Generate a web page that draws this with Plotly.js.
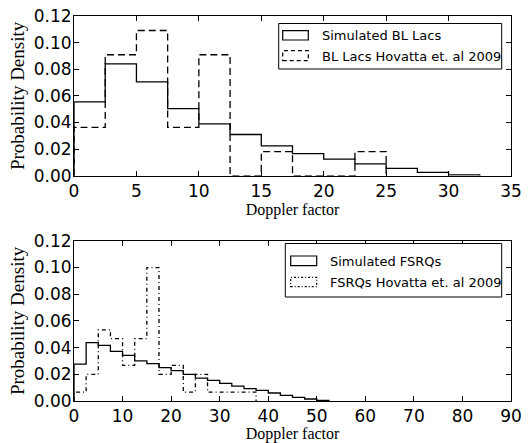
<!DOCTYPE html>
<html><head><meta charset="utf-8">
<script src="https://cdn.plot.ly/plotly-3.0.1.min.js"></script>
<style>html,body{margin:0;padding:0;background:#fff}</style>
</head><body><div id="chart" style="width:530px;height:443px"></div>
<script>
// ---- data ----
const blEdges = [0, 2.5, 5, 7.5, 10, 12.5, 15, 17.5, 20, 22.5, 25, 27.5, 30, 32.5];
const blSimulated = [0.0555, 0.084, 0.0705, 0.0505, 0.039, 0.031, 0.0225, 0.0167, 0.0125, 0.009, 0.0055, 0.0025, 0.0007];
const blHovattaEdges = [0, 2.5, 5, 7.5, 10, 12.5, 15, 17.5, 20, 22.5, 25];
const blHovatta = [0.0364, 0.0909, 0.1091, 0.0364, 0.0909, 0, 0.0182, 0, 0, 0.0182];

const fsrqEdges = [0, 2.5, 5, 7.5, 10, 12.5, 15, 17.5, 20, 22.5, 25, 27.5, 30, 32.5, 35, 37.5, 40, 42.5, 45, 47.5, 50, 52.5];
const fsrqSimulated = [0.0277, 0.0437, 0.0417, 0.0372, 0.0342, 0.030, 0.028, 0.025, 0.0227, 0.020, 0.0172, 0.0155, 0.0132, 0.0112, 0.0092, 0.008, 0.006, 0.0042, 0.0027, 0.0015, 0.0005];
const fsrqHovattaEdges = [0, 2.5, 5, 7.5, 10, 12.5, 15, 17.5, 20, 22.5, 25, 27.5, 30, 32.5, 35, 37.5];
const fsrqHovatta = [0.0067, 0.02, 0.0533, 0.0467, 0.0267, 0.0467, 0.1, 0.02, 0.0267, 0.0067, 0.02, 0.0067, 0.0067, 0.0067, 0.0067];

const topXTicks = [0, 5, 10, 15, 20, 25, 30, 35];
const bottomXTicks = [0, 10, 20, 30, 40, 50, 60, 70, 80, 90];
const yTicks = [0, 0.02, 0.04, 0.06, 0.08, 0.10, 0.12];

const topLabels = ['Simulated BL Lacs', 'BL Lacs Hovatta et. al 2009'];
const bottomLabels = ['Simulated FSRQs', 'FSRQs Hovatta et. al 2009'];
const xTitle = 'Doppler factor';
const yTitle = 'Probability Density';

// ---- step outline built from edges + densities ----
function step(edges, vals) {
  const x = [edges[0]], y = [0];
  for (let i = 0; i < vals.length; i++) { x.push(edges[i]); y.push(vals[i]); }
  x.push(edges[vals.length]); y.push(0);
  return {x, y};
}
function trace(edges, vals, xa, ya, dash, name) {
  const s = step(edges, vals);
  return {x: s.x, y: s.y, xaxis: xa, yaxis: ya, type: 'scatter', mode: 'lines', name: name,
    line: {shape: 'hv', color: '#000', width: 1.3, dash: dash}, showlegend: false, hoverinfo: 'skip'};
}

const data = [
  trace(blEdges, blSimulated, 'x', 'y', 'solid', topLabels[0]),
  trace(blHovattaEdges, blHovatta, 'x', 'y', '7px,4px', topLabels[1]),
  trace(fsrqEdges, fsrqSimulated, 'x2', 'y2', 'solid', bottomLabels[0]),
  trace(fsrqHovattaEdges, fsrqHovatta, 'x2', 'y2', '4px,3px,1px,3px', bottomLabels[1])
];

const tickFont = {family: 'DejaVu Sans', size: 17, color: '#000'};
const titleFontX = {family: 'Liberation Serif', size: 16, color: '#000'};
const titleFontY = {family: 'Liberation Serif', size: 19, color: '#000'};
function xa(range, ticks, anchor) {
  return {anchor: anchor, range: range, tickvals: ticks, ticktext: ticks.map(String),
    ticks: 'inside', ticklen: 5, tickcolor: '#000', showline: true, linecolor: '#000', linewidth: 1,
    mirror: 'ticks', showgrid: false, zeroline: false, tickfont: tickFont,
    title: {text: xTitle, font: titleFontX, standoff: 2}};
}
function ya(domain, anchor) {
  return {anchor: anchor, domain: domain, range: [0, 0.12], tickvals: yTicks, ticktext: yTicks.map(v => v.toFixed(2)),
    ticks: 'inside', ticklen: 5, tickcolor: '#000', showline: true, linecolor: '#000', linewidth: 1,
    mirror: 'ticks', showgrid: false, zeroline: false, tickfont: tickFont, ticklabelstandoff: -2,
    title: {text: yTitle, font: titleFontY, standoff: 4}};
}

// legend frames drawn in paper coordinates (pixel positions converted)
const L = 74, T = 16, W = 437, H = 385;
const px = v => (v - L) / W, py = v => (T + H - v) / H;
function legend(box, icons, textX, labels, dashes) {
  const shapes = [{type: 'rect', xref: 'paper', yref: 'paper', x0: px(box[0]), x1: px(box[1]), y0: py(box[3]), y1: py(box[2]),
    line: {color: '#000', width: 1}, fillcolor: '#fff', layer: 'above'}];
  const ann = [];
  icons.forEach((ic, i) => {
    shapes.push({type: 'rect', xref: 'paper', yref: 'paper', x0: px(ic[0]), x1: px(ic[1]), y0: py(ic[3]), y1: py(ic[2]),
      line: {color: '#000', width: 1.2, dash: dashes[i]}, fillcolor: 'rgba(0,0,0,0)', layer: 'above'});
    ann.push({xref: 'paper', yref: 'paper', x: px(textX), y: py((ic[2] + ic[3]) / 2 + 0.5), xanchor: 'left', yanchor: 'middle',
      text: labels[i], showarrow: false, font: {family: 'DejaVu Sans', size: 13, color: '#000'}});
  });
  return {shapes, ann};
}
const lg1 = legend([278.7, 501.7, 23.5, 69], [[282.7, 308.3, 30.7, 40], [282.7, 308.3, 50.7, 60.7]], 320, topLabels, ['solid', '4px,3px']);
const lg2 = legend([285.3, 501.7, 243.5, 297], [[290.7, 316.7, 256, 265.7], [290.7, 316.7, 277.3, 286.7]], 328.3, bottomLabels, ['solid', '2px,2px,1px,2px']);

const layout = {
  width: 530, height: 443,
  margin: {l: L, r: 530 - L - W, t: T, b: 443 - T - H},
  paper_bgcolor: '#fff', plot_bgcolor: '#fff',
  xaxis: xa([0, 35], topXTicks, 'y'),
  yaxis: ya([0.585, 1], 'x'),
  xaxis2: xa([0, 90], bottomXTicks, 'y2'),
  yaxis2: ya([0, 0.416], 'x2'),
  shapes: lg1.shapes.concat(lg2.shapes),
  annotations: lg1.ann.concat(lg2.ann),
  showlegend: false
};
Plotly.newPlot('chart', data, layout, {displayModeBar: false, staticPlot: true});
</script></body></html>
